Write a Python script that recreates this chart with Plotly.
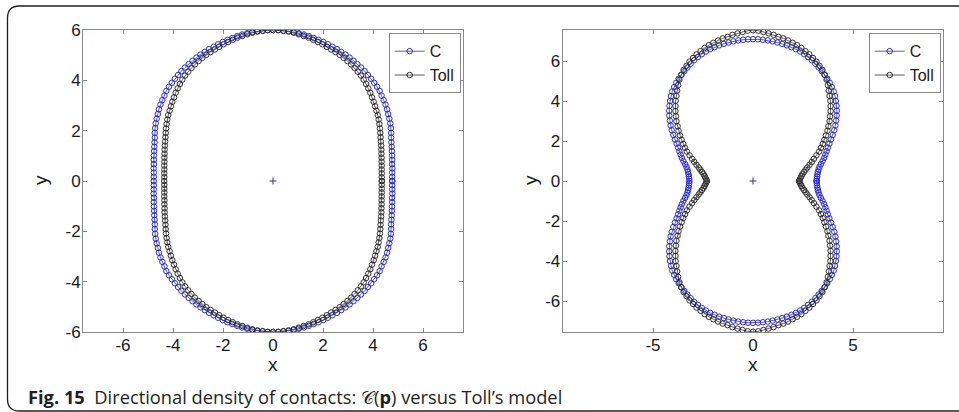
import numpy as np
import plotly.graph_objects as go

# ---------------- data ----------------
# sampling directions (degrees) for the first quadrant; the curves are symmetric
angles_deg = list(range(0, 92, 2))

# left panel: radius of the curves in each direction
left_C_r = [4.77, 4.77, 4.78, 4.80, 4.81, 4.84, 4.87, 4.90, 4.94, 4.98,
            5.03, 5.10, 5.16, 5.22, 5.27, 5.32, 5.38, 5.43, 5.47, 5.51,
            5.57, 5.60, 5.62, 5.65, 5.67, 5.70, 5.72, 5.74, 5.76, 5.78,
            5.80, 5.81, 5.83, 5.84, 5.86, 5.88, 5.90, 5.91, 5.93, 5.95,
            5.96, 5.98, 5.99, 5.99, 6.00, 6.00]
left_Toll_r = [4.35, 4.35, 4.36, 4.37, 4.39, 4.41, 4.44, 4.47, 4.51, 4.55,
               4.59, 4.64, 4.70, 4.76, 4.82, 4.88, 4.94, 4.99, 5.05, 5.11,
               5.17, 5.24, 5.30, 5.36, 5.42, 5.47, 5.51, 5.55, 5.59, 5.62,
               5.65, 5.68, 5.70, 5.72, 5.75, 5.78, 5.81, 5.84, 5.87, 5.89,
               5.92, 5.95, 5.97, 5.98, 6.00, 6.00]

# right panel
right_C_r = [3.18, 3.19, 3.21, 3.24, 3.28, 3.33, 3.40, 3.50, 3.62, 3.74,
             3.85, 3.97, 4.10, 4.25, 4.42, 4.60, 4.79, 4.97, 5.14, 5.31,
             5.47, 5.62, 5.76, 5.90, 6.03, 6.13, 6.23, 6.32, 6.40, 6.48,
             6.56, 6.64, 6.72, 6.78, 6.84, 6.89, 6.93, 6.96, 6.99, 7.01,
             7.03, 7.05, 7.07, 7.08, 7.09, 7.09]
right_Toll_r = [2.30, 2.34, 2.39, 2.44, 2.50, 2.59, 2.69, 2.80, 2.94, 3.09,
                3.24, 3.42, 3.62, 3.78, 3.95, 4.12, 4.30, 4.49, 4.66, 4.86,
                5.03, 5.22, 5.39, 5.57, 5.72, 5.90, 6.08, 6.26, 6.41, 6.55,
                6.65, 6.76, 6.84, 6.93, 7.00, 7.08, 7.14, 7.19, 7.24, 7.29,
                7.32, 7.38, 7.42, 7.47, 7.52, 7.54]

series_names = ["C", "Toll"]
origin_point = [0.0]

left_xticks = [-6, -4, -2, 0, 2, 4, 6]
left_xticktext = ["-6", "-4", "-2", "0", "2", "4", "6"]
left_yticks = [-6, -4, -2, 0, 2, 4, 6]
left_yticktext = ["-6", "-4", "-2", "0", "2", "4", "6"]
right_xticks = [-5, 0, 5]
right_xticktext = ["-5", "0", "5"]
right_yticks = [-6, -4, -2, 0, 2, 4, 6]
right_yticktext = ["-6", "-4", "-2", "0", "2", "4", "6"]

caption = ("<b>Fig. 15</b>\u00a0\u00a0Directional density of contacts:\u00a0"
           "\U0001D49E(<b>p</b>) versus Toll\u2019s model")

# ---------------- helpers ----------------
W, H = 959, 412


def px(xp):
    return xp / W


def py(yp):
    return 1 - yp / H


def closed_polar(angles, r_quarter):
    a = np.array(angles, float)
    r = np.array(r_quarter, float)
    ang = np.concatenate([a, 180 - a[-2::-1], 180 + a[1:], 360 - a[-2::-1]])
    rr = np.concatenate([r, r[-2::-1], r[1:], r[-2::-1]])
    t = np.deg2rad(ang)
    return rr * np.cos(t), rr * np.sin(t)


BLUE = "#2b2be0"
BLACK = "#303030"
AX = "#8a8a8a"
FONT = "Liberation Sans, Arial, sans-serif"

fig = go.Figure()

panels = [
    ("x", "y", "legend", left_C_r, left_Toll_r),
    ("x2", "y2", "legend2", right_C_r, right_Toll_r),
]
for xa, ya, leg, rc, rt in panels:
    for name, rq, col in [(series_names[0], rc, BLUE), (series_names[1], rt, BLACK)]:
        xs, ys = closed_polar(angles_deg, rq)
        fig.add_trace(go.Scatter(
            x=xs, y=ys, mode="lines+markers", name=name, legend=leg,
            xaxis=xa, yaxis=ya,
            line=dict(color=col, width=0.8),
            marker=dict(symbol="circle-open", size=5.5, color=col,
                        line=dict(width=1, color=col)),
            hoverinfo="skip"))
    fig.add_trace(go.Scatter(
        x=origin_point, y=origin_point, mode="markers", showlegend=False,
        xaxis=xa, yaxis=ya,
        marker=dict(symbol="cross-thin", size=5, color=BLUE,
                    line=dict(width=1, color=BLUE)),
        hoverinfo="skip"))

ydom = [py(332), py(30)]
axis_common = dict(showline=True, mirror="ticks", linecolor=AX, linewidth=1,
                   ticks="inside", ticklen=4, tickcolor=AX, tickwidth=1,
                   showgrid=False, zeroline=False, automargin=False,
                   tickfont=dict(family=FONT, size=17, color="#1a1a1a"),
                   fixedrange=True)
xaxis_extra = dict(ticklabelstandoff=-2)
yaxis_extra = dict(ticklabelstandoff=-2)

fig.update_layout(
    width=W, height=H,
    margin=dict(l=0, r=0, t=0, b=0),
    paper_bgcolor="white", plot_bgcolor="white",
    xaxis=dict(domain=[px(83), px(463)], range=[-7.6, 7.6], anchor="y",
               tickmode="array", tickvals=left_xticks, ticktext=left_xticktext,
               **axis_common, **xaxis_extra),
    yaxis=dict(domain=ydom, range=[-6, 6], anchor="x",
               tickmode="array", tickvals=left_yticks, ticktext=left_yticktext,
               **axis_common, **yaxis_extra),
    xaxis2=dict(domain=[px(562.7), px(943.3)], range=[-9.515, 9.515], anchor="y2",
                tickmode="array", tickvals=right_xticks, ticktext=right_xticktext,
                **axis_common, **xaxis_extra),
    yaxis2=dict(domain=ydom, range=[-7.55, 7.55], anchor="x2",
                tickmode="array", tickvals=right_yticks, ticktext=right_yticktext,
                **axis_common, **yaxis_extra),
    legend=dict(x=px(460.7), y=py(33.3), xanchor="right", yanchor="top",
                bgcolor="white", bordercolor=AX, borderwidth=1,
                font=dict(family=FONT, size=16, color="#1a1a1a"),
                itemwidth=30, tracegroupgap=0),
    legend2=dict(x=px(940.7), y=py(33.3), xanchor="right", yanchor="top",
                 bgcolor="white", bordercolor=AX, borderwidth=1,
                 font=dict(family=FONT, size=16, color="#1a1a1a"),
                 itemwidth=30, tracegroupgap=0),
    showlegend=True,
)

annots = [
    dict(text="x", x=px(272.7), y=py(364), font=dict(size=19)),
    dict(text="y", x=px(40), y=py(180), textangle=-90, font=dict(size=19)),
    dict(text="x", x=px(752.7), y=py(364), font=dict(size=19)),
    dict(text="y", x=px(530), y=py(180), textangle=-90, font=dict(size=19)),
]
for a in annots:
    fig.add_annotation(xref="paper", yref="paper", showarrow=False,
                       xanchor="center", yanchor="middle",
                       font_family=FONT, font_color="#1a1a1a", **a)

fig.add_annotation(xref="paper", yref="paper", showarrow=False,
                   x=px(26), y=py(396), xanchor="left", yanchor="middle",
                   text=caption,
                   font=dict(family="Open Sans, Noto Sans, sans-serif", size=18.3,
                             color="#231f20"))

# rounded frame around the figure
r = 12
path = (f"M {px(959)} {py(6)} L {px(7.5 + r)} {py(6)} "
        f"Q {px(7.5)} {py(6)} {px(7.5)} {py(6 + r)} "
        f"L {px(7.5)} {py(411 - r)} Q {px(7.5)} {py(411)} {px(7.5 + r)} {py(411)} "
        f"L {px(959)} {py(411)}")
fig.add_shape(type="path", path=path, xref="paper", yref="paper",
              line=dict(color="#231f20", width=1.3))

fig.write_html("out.html",
               config={"displayModeBar": False},
               post_script="document.body.style.margin='0';"
                           "document.body.style.padding='0';"
                           "document.body.style.overflow='hidden';")
